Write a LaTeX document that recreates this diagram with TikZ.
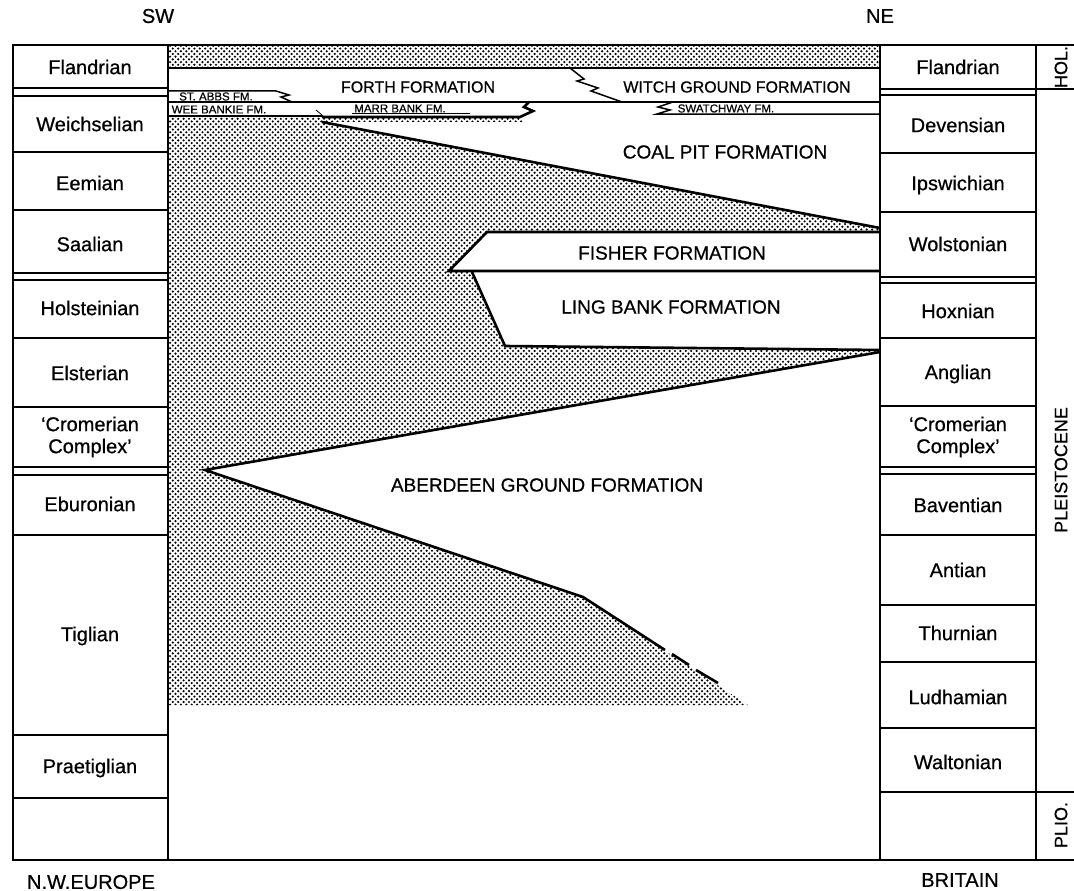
\documentclass[tikz,border=0pt]{standalone}
\usepackage{fontspec}
\setmainfont{Liberation Sans}[FakeBold=0.6]
\usetikzlibrary{patterns}
\pgfdeclarepatternformonly{stip}{\pgfqpoint{-1.4pt}{-1.4pt}}{\pgfqpoint{4.4pt}{4.4pt}}{\pgfqpoint{5.4pt}{5.4pt}}{%
  \pgfpathcircle{\pgfqpoint{0pt}{0pt}}{1.2pt}%
  \pgfpathcircle{\pgfqpoint{2.7pt}{2.7pt}}{1.2pt}%
  \pgfusepath{fill}}
\tikzset{
  frame/.style={line width=2pt, line cap=rect},
  geo/.style={line width=2.6pt, line join=miter},
  thinline/.style={line width=1.5pt},
  stipple/.style={pattern=stip},
  lab/.style={font=\fontsize{20}{22}\selectfont, align=center, inner sep=0pt},
  fm/.style={font=\fontsize{19}{22}\selectfont, inner sep=0pt},
  fmsmall/.style={font=\fontsize{16}{18}\selectfont, inner sep=0pt},
  tiny/.style={font=\fontsize{11.5}{13}\selectfont, inner sep=0pt},
  side/.style={font=\fontsize{18}{20}\selectfont, inner sep=0pt, rotate=90},
}
\begin{document}
\begin{tikzpicture}[x=1pt,y=-1pt]
\useasboundingbox (0,0) rectangle (1074,891);
\fill[white] (0,0) rectangle (1074,891);

% ---------- stippled areas ----------
\fill[stipple] (168,45) rectangle (880,68);
\fill[stipple] (168,116) -- (322,116) -- (322,122) -- (880,228) -- (880,232)
  -- (487,232) -- (449,271) -- (472,272) -- (505,346) -- (880,350) -- (880,352)
  -- (205,470) -- (583,597) -- (748,705) -- (168,705) -- cycle;
\fill[stipple] (322,116) rectangle (522,121);

% ---------- frame ----------
\draw[frame] (13,45) -- (1074,45);
\draw[frame] (13,860) -- (1074,860);
\draw[frame] (13,45) -- (13,860);
\draw[frame] (168,45) -- (168,860);
\draw[frame] (880,45) -- (880,860);
\draw[frame] (1036,45) -- (1036,860);
\draw[frame] (1036,89) -- (1074,89);
\draw[frame] (1036,792) -- (1074,792);

% left column boundaries
\foreach \y in {88,96,152,210,273,280,338,407,467,475,535,735,798}
  \draw[frame] (13,\y) -- (168,\y);
% right column boundaries
\foreach \y in {89,95,153,212,277,283,338,406,467,474,535,605,662,728,792}
  \draw[frame] (880,\y) -- (1036,\y);

% ---------- upper thin formations ----------
\draw[frame] (168,68) -- (880,68);
\draw[thinline] (168,91) -- (276,91) -- (289,95) -- (281,97) -- (292,102);
\draw[thinline] (168,102) -- (880,102);
\draw[thinline] (570,68) -- (584,79) -- (577,81) -- (598,88) -- (591,91) -- (622,102);
\draw[frame] (168,116) -- (322,116);
\draw[geo] (322,117) -- (520,117) -- (533,111) -- (524,107) -- (529,102);
\draw[line width=0.8pt] (316,110) -- (322,115);
\draw[line width=0.8pt] (352,113.5) -- (470,113.5);
\draw[thinline] (673,102) -- (658,107) -- (670,110) -- (657,114) -- (880,114);

% ---------- main formation boundaries ----------
\draw[geo] (322,122) -- (880,228);
\draw[geo] (880,232) -- (487,232) -- (449,271) -- (880,271);
\draw[geo] (472,272) -- (505,346) -- (880,350);
\draw[geo] (880,352) -- (205,470) -- (583,597) -- (665,650);
\draw[geo] (672,654) -- (689,665);
\draw[geo] (696,670) -- (718,683);

% ---------- formation labels ----------
\node[fmsmall] (forth) at (418,87) {FORTH FORMATION};
\node[fmsmall] (witch) at (737,87) {WITCH GROUND FORMATION};
\node[tiny] (abbs) at (216,96.5) {ST. ABBS FM.};
\node[tiny] (wee) at (219,109.5) {WEE BANKIE FM.};
\node[tiny] (marr) at (400,108.5) {MARR BANK FM.};
\node[tiny] (swat) at (726,108.5) {SWATCHWAY FM.};
\node[fm] (coal) at (725,152) {COAL PIT FORMATION};
\node[fm] (fisher) at (672,253) {FISHER FORMATION};
\node[fm] (ling) at (671,307) {LING BANK FORMATION};
\node[fm] (aber) at (547,485) {ABERDEEN GROUND FORMATION};

% ---------- left column labels ----------
\node[lab] (l1) at (90,67) {Flandrian};
\node[lab] (l2) at (90,124) {Weichselian};
\node[lab] (l3) at (90,183) {Eemian};
\node[lab] (l4) at (90,244) {Saalian};
\node[lab] (l5) at (90,308) {Holsteinian};
\node[lab] (l6) at (90,373) {Elsterian};
\node[lab] (l7) at (90,437) {`Cromerian\\Complex'};
\node[lab] (l8) at (90,504) {Eburonian};
\node[lab] (l9) at (90,636) {Tiglian};
\node[lab] (l10) at (90,768) {Praetiglian};

% ---------- right column labels ----------
\node[lab] (r1) at (958,67) {Flandrian};
\node[lab] (r2) at (958,125) {Devensian};
\node[lab] (r3) at (958,185) {Ipswichian};
\node[lab] (r4) at (958,244) {Wolstonian};
\node[lab] (r5) at (958,311) {Hoxnian};
\node[lab] (r6) at (958,374) {Anglian};
\node[lab] (r7) at (958,437) {`Cromerian\\Complex'};
\node[lab] (r8) at (958,505) {Baventian};
\node[lab] (r9) at (958,570) {Antian};
\node[lab] (r10) at (958,633) {Thurnian};
\node[lab] (r11) at (958,697) {Ludhamian};
\node[lab] (r12) at (958,762) {Waltonian};

% ---------- side labels ----------
\node[side] (hol) at (1061,67) {HOL.};
\node[side] (pleist) at (1061,470) {PLEISTOCENE};
\node[side] (plio) at (1061,825) {PLIO.};

% ---------- headings ----------
\node[lab] (sw) at (158,16) {SW};
\node[lab] (ne) at (880,16) {NE};
\node[lab] (nwe) at (91,882) {N.W.EUROPE};
\node[lab] (brit) at (960,880) {BRITAIN};
\end{tikzpicture}
\end{document}
